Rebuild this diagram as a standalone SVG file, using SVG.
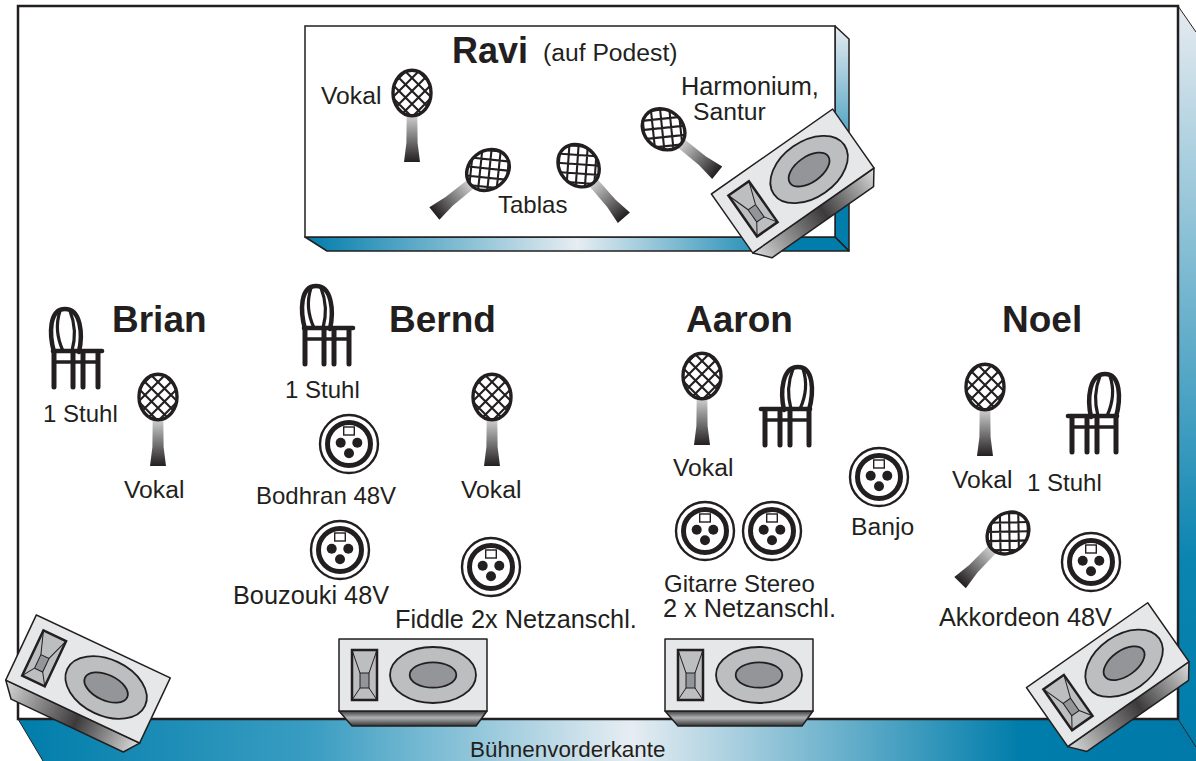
<svg xmlns="http://www.w3.org/2000/svg" width="1196" height="761" viewBox="0 0 1196 761">
<style>
text{font-family:"Liberation Sans",Arial,sans-serif;font-size:24px;fill:#231f20}
text.n{font-weight:bold;font-size:37px}
text.r{font-weight:bold;font-size:36px}
text.a{font-size:24.7px}
text.b{font-size:25.3px}
text.d{font-size:22.4px}
.e{stroke:#231f20;stroke-width:1.5;stroke-linejoin:round}
.c{fill:none;stroke:#231f20;stroke-linecap:round}
</style>
<defs>
<linearGradient id="gBottom" gradientUnits="userSpaceOnUse" x1="18" y1="0" x2="1196" y2="0"><stop offset="0" stop-color="#007dab"/><stop offset=".25" stop-color="#3a9dc2"/><stop offset=".52" stop-color="#e6edf2"/><stop offset=".85" stop-color="#007dab"/><stop offset="1" stop-color="#0079a8"/></linearGradient>
<linearGradient id="gRight" x1="0" y1="0" x2="0" y2="1"><stop offset="0" stop-color="#e6ebf0"/><stop offset=".75" stop-color="#0a84b0"/><stop offset="1" stop-color="#007dab"/></linearGradient>
<linearGradient id="gPB" gradientUnits="userSpaceOnUse" x1="305" y1="0" x2="849" y2="0"><stop offset="0" stop-color="#007dab"/><stop offset=".5" stop-color="#e6edf2"/><stop offset=".9" stop-color="#007dab"/><stop offset="1" stop-color="#007dab"/></linearGradient>
<linearGradient id="gPR" gradientUnits="userSpaceOnUse" x1="0" y1="26" x2="0" y2="251"><stop offset="0" stop-color="#e6ebf0"/><stop offset=".75" stop-color="#007dab"/><stop offset="1" stop-color="#007dab"/></linearGradient>
<linearGradient id="gMic" x1="0" y1="0" x2="0" y2="1"><stop offset="0" stop-color="#d8d9da"/><stop offset="1" stop-color="#231f20"/></linearGradient>
<linearGradient id="gFront" x1="0" y1="0" x2="0" y2="1"><stop offset="0" stop-color="#3c3c3c"/><stop offset=".45" stop-color="#b0b2b4"/><stop offset="1" stop-color="#333"/></linearGradient>
<linearGradient id="gTilt" x1="0" y1="0" x2="1" y2="0"><stop offset="0" stop-color="#d8d9da"/><stop offset=".55" stop-color="#3c3a3b"/><stop offset="1" stop-color="#dcddde"/></linearGradient>
<clipPath id="head"><ellipse rx="19" ry="22.7"/></clipPath>
<g id="mic">
<path d="M-5.3 20 5.3 20 5.6 50 8 69 -8 69 -5.6 50Z" fill="url(#gMic)"/>
<ellipse rx="19" ry="22.7" fill="#fff"/>
<path clip-path="url(#head)" fill="none" stroke="#231f20" stroke-width="2.1" d="M-30 -32 30 28M-30 -19 30 41M-30 -6 30 54M-30 7 30 67M-30 -45 30 15M-30 -58 30 2M-30 -71 30 -11M30 -32 -30 28M30 -19 -30 41M30 -6 -30 54M30 7 -30 67M30 -45 -30 15M30 -58 -30 2M30 -71 -30 -11"/>
<ellipse rx="19" ry="22.7" fill="none" stroke="#231f20" stroke-width="3.4"/>
</g>
<g id="chair">
<path class="c" stroke-width="4.5" d="M4 44C-1 26 -1 1 15 1C31 1 33 26 29 44"/>
<path class="c" stroke-width="3.2" d="M10 3C5 18 8 32 13 43M20 3C26 18 25 32 22 43"/>
<path class="c" stroke-width="4.6" d="M3 43H52"/>
<path class="c" stroke-width="3.6" d="M4 54H48"/>
<path class="c" stroke-width="5" d="M4 44V79M23 44V79M33 44V79M48 44V79"/>
</g>
<g id="xlr">
<circle r="29" fill="#fff" stroke="#231f20" stroke-width="2.4"/>
<circle r="21.5" fill="#fff" stroke="#231f20" stroke-width="5"/>
<rect x="-5.3" y="-17" width="10.6" height="8" fill="#fff" stroke="#231f20" stroke-width="1.4"/>
<circle cx="-8.3" cy="-1.3" r="5" fill="#231f20"/>
<circle cx="8.3" cy="-1.3" r="5" fill="#231f20"/>
<circle cy="9.3" r="5" fill="#231f20"/>
</g>
<g id="spk">
<rect x="-74" y="-36" width="148" height="72" fill="#e6e7e8" class="e"/>
<rect x="-61" y="-25" width="25" height="50" fill="#bcbec0" stroke="#231f20" stroke-width="2.5"/>
<path d="M-61 -25-53 -2M-36 -25-44 -2M-61 25-53 13M-36 25-44 13" fill="none" stroke="#231f20" stroke-width="1"/>
<rect x="-53" y="-2" width="9" height="15" fill="#939598" stroke="#231f20" stroke-width="1"/>
<ellipse cx="20" rx="43" ry="28" fill="#bcbec0" stroke="#231f20" stroke-width="1.8"/>
<ellipse cx="20" rx="23.3" ry="12.7" fill="#939598" stroke="#231f20" stroke-width="1.8"/>
</g>
<path id="taper" d="M-74 36-61 51H63L74 36Z" class="e"/>
</defs>

<g id="stage">
<rect x="18" y="6" width="1160" height="713" fill="#fff"/>
<path d="M1178 6 1196 32V747L1178 719Z" fill="url(#gRight)"/>
<path d="M18 719H1178L1196 747V761H43Z" fill="url(#gBottom)"/>
<path d="M18 719H1178V6H18Z" fill="none" stroke="#231f20" stroke-width="2.5"/>
<path d="M1178 6 1196 32M1178 719 1196 747M18 719 43 761" fill="none" stroke="#231f20" stroke-width="1"/>
</g>
<g id="podest">
<path d="M835 26 849 39V251L835 237Z" fill="url(#gPR)" class="e"/>
<path d="M305 237H835L849 251H327Z" fill="url(#gPB)" class="e"/>
<rect x="305" y="26" width="530" height="211" fill="#fff" stroke="#231f20" stroke-width="1.5"/>
</g>

<g id="ravi">
<text class="r" x="452" y="63">Ravi</text>
<text class="a" x="543" y="61">(auf Podest)</text>
<text class="a" x="321" y="104">Vokal</text>
<use href="#mic" x="412" y="93"/>
<use href="#mic" transform="translate(488,170) rotate(51)"/>
<use href="#mic" transform="translate(578.6,165.7) rotate(-41)"/>
<use href="#mic" transform="translate(663.6,129.3) rotate(-51)"/>
<text x="498" y="213">Tablas</text>
<text class="b" x="681" y="95">Harmonium,</text>
<text class="a" x="693" y="120">Santur</text>
</g>
<g id="speaker-ravi" transform="translate(792.7,181) rotate(-35)"><use href="#taper" fill="url(#gTilt)"/><use href="#spk"/></g>

<g id="brian">
<text class="n" x="112" y="332">Brian</text>
<use href="#chair" x="50" y="308"/>
<text x="43" y="422">1 Stuhl</text>
<use href="#mic" x="158" y="397"/>
<text class="a" x="124" y="498">Vokal</text>
</g>
<g id="bernd">
<text class="n" x="389" y="332">Bernd</text>
<use href="#chair" x="301" y="285"/>
<text x="285" y="398">1 Stuhl</text>
<use href="#xlr" x="349" y="444"/>
<text x="256" y="504">Bodhran 48V</text>
<use href="#xlr" x="340" y="550"/>
<text class="b" x="233" y="604">Bouzouki 48V</text>
<use href="#mic" x="492" y="397"/>
<text class="a" x="461" y="498">Vokal</text>
<use href="#xlr" x="491" y="567"/>
<text class="b" x="395" y="628">Fiddle 2x Netzanschl.</text>
</g>
<g id="aaron">
<text class="n" x="686" y="332">Aaron</text>
<use href="#mic" x="702" y="376"/>
<use href="#chair" transform="translate(813,366) scale(-1,1)"/>
<text class="a" x="673" y="476">Vokal</text>
<use href="#xlr" x="705" y="531"/>
<use href="#xlr" x="772" y="531"/>
<text x="664" y="592">Gitarre Stereo</text>
<text class="b" x="663" y="617">2 x Netzanschl.</text>
<use href="#xlr" x="879" y="477"/>
<text class="a" x="851" y="535">Banjo</text>
</g>
<g id="noel">
<text class="n" x="1002" y="332">Noel</text>
<use href="#mic" x="985" y="387"/>
<use href="#chair" transform="translate(1120,373) scale(-1,1)"/>
<text class="a" x="952" y="488">Vokal</text>
<text x="1027" y="491">1 Stuhl</text>
<use href="#mic" transform="translate(1008,533) rotate(44)"/>
<use href="#xlr" x="1091" y="562"/>
<text class="b" x="939" y="626">Akkordeon 48V</text>
</g>

<g id="speaker-left" transform="translate(88,679) rotate(25.2)"><use href="#taper" fill="url(#gTilt)"/><use href="#spk"/></g>
<g id="speaker-center-1" transform="translate(413,675)"><use href="#taper" fill="url(#gFront)"/><use href="#spk"/></g>
<g id="speaker-center-2" transform="translate(739,675)"><use href="#taper" fill="url(#gFront)"/><use href="#spk"/></g>
<g id="speaker-right" transform="translate(1107.7,674.7) rotate(-35)"><use href="#taper" fill="url(#gTilt)"/><use href="#spk"/></g>
<text class="d" id="edge-label" x="470" y="757">Bühnenvorderkante</text>
</svg>
